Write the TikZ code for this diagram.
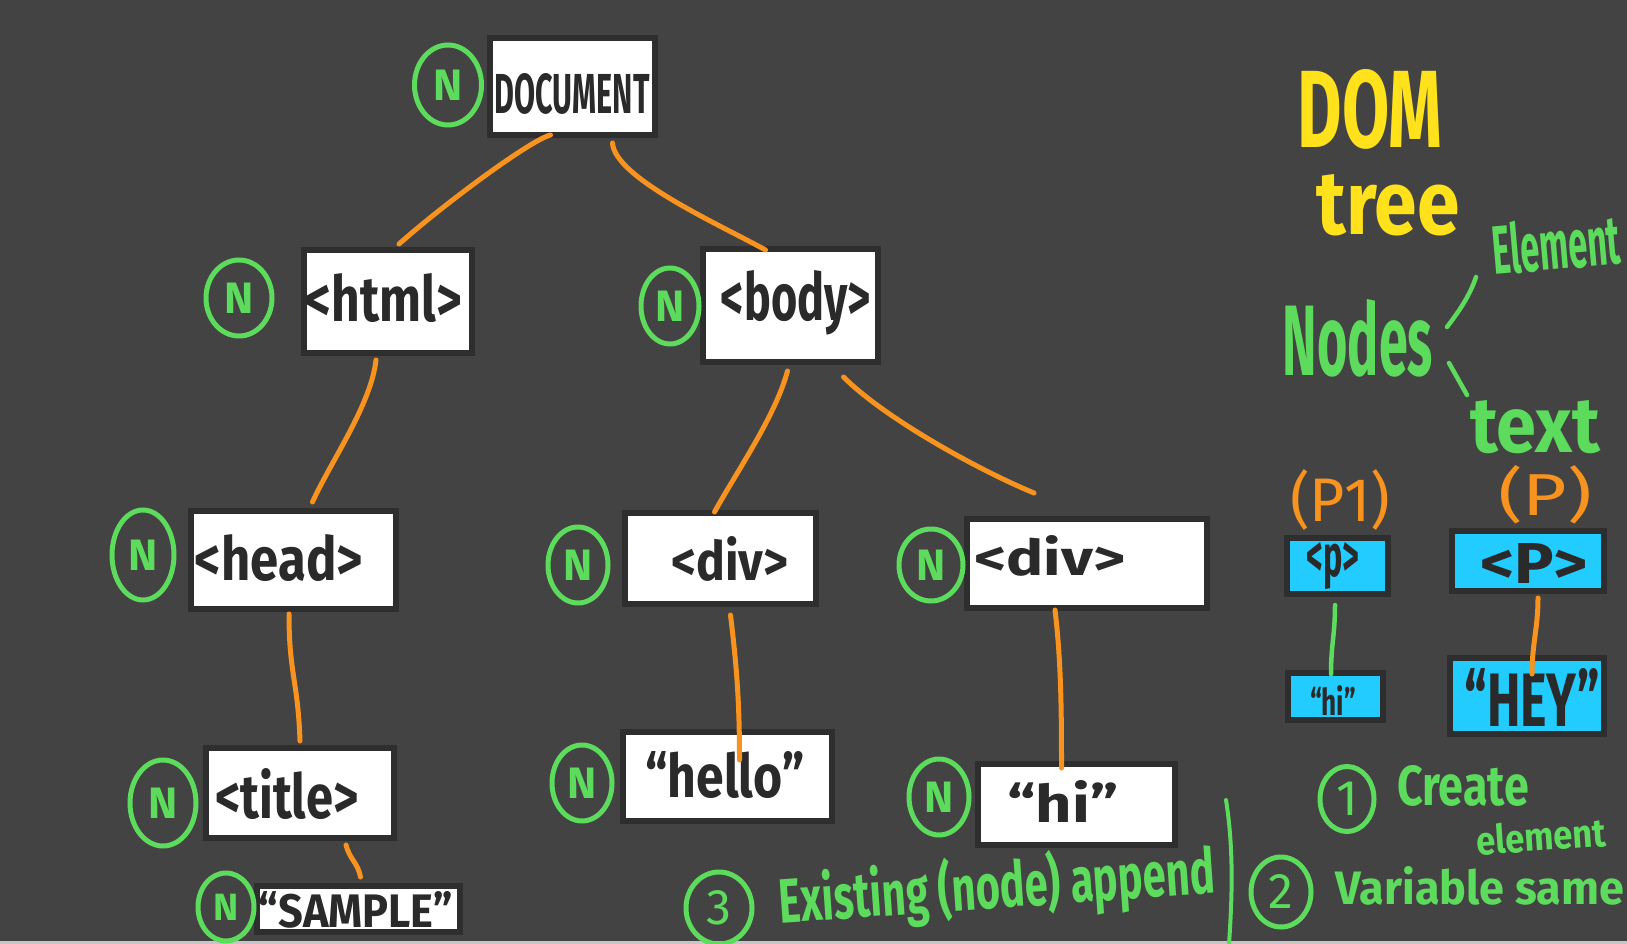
\documentclass[tikz,border=0pt]{standalone}
\usepackage{fontspec}
\setmainfont{Fira Sans}
\usetikzlibrary{shapes.geometric}
\definecolor{bg}{HTML}{434343}
\definecolor{bord}{HTML}{2E2E2E}
\definecolor{ink}{HTML}{2A2A2A}
\definecolor{grn}{HTML}{5DDB5D}
\definecolor{org}{HTML}{F7931E}
\definecolor{ylw}{HTML}{FFE11C}
\definecolor{sky}{HTML}{22CCFF}
\newcommand\hwtext[3]{\resizebox{#1pt}{#2pt}{#3}}
\begin{document}
\begin{tikzpicture}[x=1pt,y=-1pt,
  wbox/.style={draw=bord, line width=6pt, fill=white, inner sep=0pt},
  bbox/.style={wbox, fill=sky},
  lbl/.style={inner sep=0pt, text=ink, font=\bfseries},
  ncirc/.style={ellipse, draw=grn, line width=5pt, inner sep=0pt, text=grn, font=\fontsize{44}{44}\selectfont\bfseries},
  numcirc/.style={ncirc, font=\fontsize{50}{50}\selectfont},
  conn/.style={draw=org, line width=5pt, line cap=round},
  gconn/.style={draw=grn, line width=4.5pt, line cap=round},
  gtext/.style={inner sep=0pt, text=grn, font=\bfseries},
  ytext/.style={inner sep=0pt, text=ylw, font=\bfseries},
  otext/.style={inner sep=0pt, text=org}
]
\useasboundingbox (0,0) rectangle (1627,944);
\fill[bg] (0,0) rectangle (1627,944);
\fill[gray!45] (0,941) rectangle (1627,944);

% boxes
\node[wbox, minimum width=165pt, minimum height=97pt] (doc) at (572.5,86.5) {};
\node[wbox, minimum width=168pt, minimum height=103pt] (html) at (388,301.5) {};
\node[wbox, minimum width=175pt, minimum height=113pt] (body) at (790.5,305.5) {};
\node[wbox, minimum width=205pt, minimum height=98pt] (head) at (293.5,560) {};
\node[wbox, minimum width=191pt, minimum height=91pt] (div1) at (720.5,558.5) {};
\node[wbox, minimum width=240pt, minimum height=89pt] (div2) at (1087,563.5) {};
\node[wbox, minimum width=188pt, minimum height=90pt] (title) at (300,793) {};
\node[wbox, minimum width=209pt, minimum height=89pt] (hello) at (727.5,776.5) {};
\node[wbox, minimum width=197pt, minimum height=81pt] (hi) at (1076.5,804.5) {};
\node[wbox, minimum width=203pt, minimum height=46pt] (sample) at (358.5,909) {};
\node[bbox, minimum width=101pt, minimum height=56pt] (p1) at (1337.5,566) {};
\node[bbox, minimum width=95pt, minimum height=47pt] (hib) at (1335.5,696.5) {};
\node[bbox, minimum width=152pt, minimum height=60pt] (p2) at (1528,561) {};
\node[bbox, minimum width=154pt, minimum height=76pt] (hey) at (1527,696) {};

% box labels
\node[lbl] (docT) at (572,94) {\hwtext{155}{40}{DOCUMENT}};
\node[lbl] (htmlT) at (384,298) {\hwtext{156}{48}{<html>}};
\node[lbl] (bodyT) at (796,303) {\hwtext{150}{50}{<body>}};
\node[lbl] (headT) at (279,558) {\hwtext{168}{46}{<head>}};
\node[lbl] (div1T) at (730,559) {\hwtext{117}{44}{<div>}};
\node[lbl] (div2T) at (1050,556) {\hwtext{151}{40}{<div>}};
\node[lbl] (titleT) at (287,794) {\hwtext{143}{50}{<title>}};
\node[lbl] (helloT) at (725,775) {\hwtext{159}{46}{“hello”}};
\node[lbl] (hiT) at (1063,801) {\hwtext{111}{42}{“hi”}};
\node[lbl] (sampleT) at (356,910) {\hwtext{194}{36}{“SAMPLE”}};
\node[lbl] (p1T) at (1333,566) {\hwtext{53}{34}{<p>}};
\node[lbl] (hibT) at (1333,700) {\hwtext{46}{30}{“hi”}};
\node[lbl] (p2T) at (1534,563) {\hwtext{108}{40}{<P>}};
\node[lbl] (heyT) at (1532,697) {\hwtext{135}{58}{“HEY”}};

% N circles
\node[ncirc, minimum width=67pt, minimum height=80pt] (nDoc) at (448,85) {N};
\node[ncirc, minimum width=66pt, minimum height=76pt] (nHtml) at (239,298) {N};
\node[ncirc, minimum width=58pt, minimum height=76pt] (nBody) at (670,306) {N};
\node[ncirc, minimum width=62pt, minimum height=90pt] (nHead) at (143,555) {N};
\node[ncirc, minimum width=60pt, minimum height=76pt] (nDiv1) at (578,565) {N};
\node[ncirc, minimum width=64pt, minimum height=72pt] (nDiv2) at (931,565) {N};
\node[ncirc, minimum width=66pt, minimum height=86pt] (nTitle) at (163,803) {N};
\node[ncirc, minimum width=60pt, minimum height=76pt] (nHello) at (582,783) {N};
\node[ncirc, minimum width=60pt, minimum height=76pt] (nHi) at (939,797) {N};
\node[ncirc, minimum width=56pt, minimum height=68pt, font=\fontsize{38}{38}\selectfont\bfseries] (nSample) at (226,907) {N};

% connectors
\draw[conn] ([xshift=-22pt,yshift=3pt]doc.south) .. controls +(-20,5) and +(45,-40) .. ([xshift=11pt,yshift=3pt]html.north);
\draw[conn] ([xshift=40pt,yshift=-5pt]doc.south) .. controls +(2,35) and +(-45,-25) .. ([xshift=-25pt,yshift=-4pt]body.north);
\draw[conn] ([xshift=-12pt,yshift=-4pt]html.south) .. controls +(-5,45) and +(18,-40) .. ([xshift=19pt,yshift=6pt]head.north);
\draw[conn] ([xshift=-3pt,yshift=-6pt]body.south) .. controls +(-12,45) and +(22,-40) .. ([xshift=-6pt,yshift=-2pt]div1.north);
\draw[conn] ([xshift=53pt,yshift=-12pt]body.south) .. controls +(40,40) and +(-60,-25) .. ([xshift=-53pt,yshift=23pt]div2.north);
\draw[conn] ([xshift=-4.5pt,yshift=-2pt]head.south) .. controls +(0,60) and +(-2,-60) .. ([yshift=4pt]title.north);
\draw[conn] ([xshift=10pt,yshift=-8pt]div1.south) .. controls +(6,50) and +(0,-60) .. ([xshift=12pt,yshift=-31pt]hello.north);
\draw[conn] ([xshift=-32pt,yshift=1pt]div2.south) .. controls +(6,50) and +(0,-60) .. ([xshift=-15pt,yshift=-7pt]hi.north);
\draw[conn] ([xshift=46pt,yshift=-4pt]title.south) .. controls +(4,15) and +(-3,-15) .. ([xshift=2pt,yshift=6pt]sample.north);
\draw[gconn] ([xshift=-2.5pt,yshift=-8pt]p1.south) .. controls +(0,30) and +(0,-30) .. ([xshift=-4.5pt,yshift=-4pt]hib.north);
\draw[conn] ([xshift=10pt,yshift=-4pt]p2.south) .. controls +(0,30) and +(0,-30) .. ([xshift=5pt,yshift=-19pt]hey.north);

% right side notes
\node[ytext] (dom) at (1370,109) {\hwtext{145}{78}{DOM}};
\node[ytext] (tree) at (1388,205) {\hwtext{143}{60}{tree}};
\node[gtext] (nodesT) at (1358,338) {\hwtext{150}{76}{Nodes}};
\node[gtext, rotate=5] (elemT) at (1556,244) {\hwtext{128}{52}{Element}};
\node[gtext] (textT) at (1535,427) {\hwtext{130}{52}{text}};
\coordinate (l1a) at (1447,327);
\coordinate (l1b) at (1476,277);
\coordinate (l2a) at (1449,363);
\coordinate (l2b) at (1467,395);
\draw[gconn] (l1a) .. controls (1460,310) and (1470,295) .. (l1b);
\draw[gconn] (l2a) -- (l2b);

\node[otext] (p1lab) at (1340,500) {\hwtext{100}{52}{(P1)}};
\node[otext] (p2lab) at (1545,495) {\hwtext{94}{50}{(P)}};

\node[numcirc, minimum width=54pt, minimum height=65pt] (c1) at (1347,799) {1};
\node[gtext] (createT) at (1463,786) {\hwtext{132}{40}{Create}};
\node[gtext, rotate=4] (elementT) at (1541,836) {\hwtext{130}{30}{element}};
\node[numcirc, minimum width=60pt, minimum height=70pt] (c2) at (1281,892) {2};
\node[gtext] (varT) at (1480,886) {\hwtext{288}{38}{Variable same}};
\node[numcirc, minimum width=66pt, minimum height=72pt] (c3) at (719,908) {3};
\node[gtext, rotate=4] (exT) at (997,888) {\hwtext{436}{54}{Existing (node) append}};
\coordinate (sepTop) at (1226,800);
\coordinate (sepBot) at (1229,944);
\draw[gconn, line width=4pt] (sepTop) .. controls (1234,850) and (1232,900) .. (sepBot);
\end{tikzpicture}
\end{document}
